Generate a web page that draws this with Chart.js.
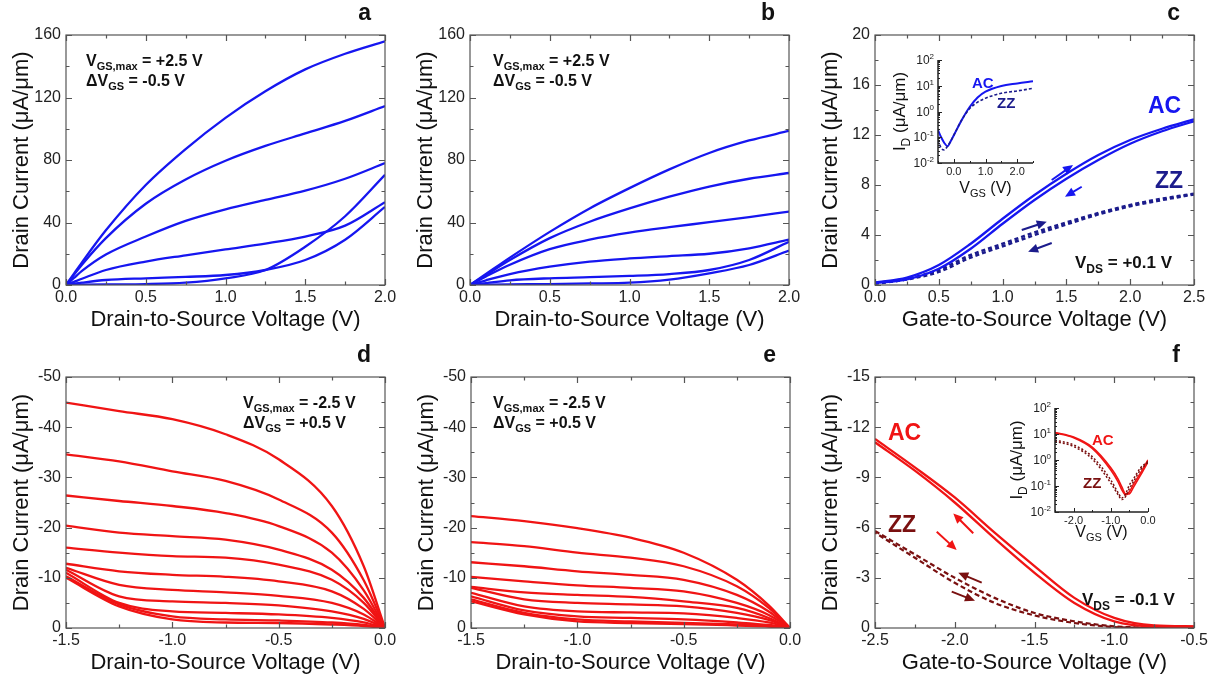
<!DOCTYPE html>
<html><head><meta charset="utf-8">
<script src="https://cdn.jsdelivr.net/npm/chart.js@4.4.1/dist/chart.umd.min.js"></script>
<style>
html,body{margin:0;padding:0;background:#fff;width:1214px;height:681px;overflow:hidden}
canvas{position:absolute}
</style></head><body>
<canvas id="pa" width="400" height="340" style="left:0px;top:0px"></canvas>
<canvas id="pb" width="400" height="340" style="left:404px;top:0px"></canvas>
<canvas id="pc" width="400" height="340" style="left:809px;top:0px"></canvas>
<canvas id="pd" width="400" height="339" style="left:0px;top:342px"></canvas>
<canvas id="pe" width="400" height="339" style="left:405px;top:342px"></canvas>
<canvas id="pf" width="400" height="339" style="left:809px;top:342px"></canvas>
<canvas id="ic" width="155" height="155" style="left:885px;top:45px"></canvas>
<canvas id="if" width="158" height="155" style="left:1000px;top:392px"></canvas>
<script>
// ---------------- DATA ----------------
const vdsPos = [0, 0.05, 0.1, 0.25, 0.5, 0.75, 1.0, 1.25, 1.5, 1.75, 2.0];
const idA = [
  [0, 7.3, 14.5, 35, 64, 87, 107, 124, 138, 148, 156],
  [0, 6.5, 13, 30, 52, 67.5, 79.5, 89, 97, 105, 114.5],
  [0, 4.5, 9, 19.5, 31, 41, 48.4, 54.5, 60.4, 68, 78],
  [0, 2, 4, 9.6, 15, 19, 22.8, 26.5, 31, 38, 53],
  [0, 0.8, 1.5, 3.2, 4.3, 5.2, 6.4, 9.6, 16, 29, 50],
  [0, 0.1, 0.2, 0.4, 0.6, 1.5, 4.3, 9.6, 24.5, 44, 70.5]
];
const idB = [
  [0, 3.5, 7, 17.5, 34, 49, 62, 74, 84.5, 92.5, 98.6],
  [0, 3.2, 6.4, 16, 30, 40.5, 49, 56.5, 63, 68, 71.7],
  [0, 2.8, 5.5, 13, 23, 29, 33.5, 37, 40.2, 43.5, 47],
  [0, 1.5, 3, 7, 11.7, 15, 17, 18.5, 20, 23.5, 29],
  [0, 0.6, 1.2, 3, 4.3, 5, 5.8, 7, 9.6, 16, 27.7],
  [0, 0.1, 0.2, 0.4, 0.6, 1, 1.5, 3.5, 7.5, 12.8, 22]
];
const vgsC = [0, 0.25, 0.5, 0.75, 1.0, 1.25, 1.5, 1.75, 2.0, 2.25, 2.5];
const idC_AC = [
  [0.2, 0.6, 1.6, 3.3, 5.3, 7.2, 8.9, 10.4, 11.6, 12.5, 13.25],
  [0.15, 0.45, 1.3, 2.9, 4.9, 6.8, 8.5, 10.0, 11.3, 12.3, 13.1]
];
const idC_ZZ = [
  [0.15, 0.5, 1.2, 2.4, 3.3, 4.2, 5.0, 5.75, 6.4, 6.9, 7.3],
  [0.1, 0.45, 1.05, 2.2, 3.1, 4.0, 4.85, 5.65, 6.3, 6.8, 7.25]
];
const vgsInsetC = [-0.5, -0.4, -0.3, -0.2, -0.1, 0, 0.25, 0.5, 0.75, 1.0, 1.5, 2.0, 2.5];
const idInsetC_AC = [0.19, 0.1, 0.06, 0.045, 0.07, 0.12, 0.47, 1.5, 3.5, 5.9, 9.8, 12.3, 15];
const idInsetC_ZZ = [0.08, 0.038, 0.032, 0.045, 0.07, 0.12, 0.47, 1.3, 2.3, 3.3, 5.1, 6.3, 7.9];
const vdsNeg = [-1.5, -1.25, -1.0, -0.75, -0.5, -0.25, -0.1, 0];
const idD = [
  [-44.9, -43.2, -41.6, -38.6, -33.6, -24.3, -12.3, 0],
  [-34.6, -33.2, -31.2, -29.3, -25.6, -19.0, -9.5, 0],
  [-26.4, -25.3, -24.3, -22.9, -20.3, -15.0, -7.5, 0],
  [-20.4, -19.0, -18.3, -17.6, -15.6, -11.6, -6.0, 0],
  [-16.0, -15.0, -14.3, -14.0, -12.6, -9.6, -5.0, 0],
  [-12.8, -11.3, -10.6, -10.2, -9.3, -7.3, -3.8, 0],
  [-12.0, -8.6, -7.6, -7.1, -6.4, -5.0, -2.7, 0],
  [-11.6, -6.3, -5.3, -5.0, -4.5, -3.3, -1.8, 0],
  [-11.0, -5.0, -3.3, -3.0, -2.7, -2.0, -1.1, 0],
  [-10.3, -4.7, -2.3, -1.7, -1.5, -1.1, -0.6, 0],
  [-10.0, -4.3, -1.7, -1.1, -1.0, -0.7, -0.4, 0]
];
const idE = [
  [-22.3, -21.3, -19.9, -18.0, -15.0, -9.6, -4.5, 0],
  [-17.1, -16.3, -15.0, -14.0, -12.3, -8.3, -4.0, 0],
  [-13.1, -12.3, -11.3, -10.6, -9.6, -6.6, -3.3, 0],
  [-10.2, -9.3, -8.5, -8.0, -7.3, -5.0, -2.6, 0],
  [-8.2, -7.1, -6.6, -6.2, -5.3, -4.0, -2.0, 0],
  [-8.0, -5.7, -5.0, -4.7, -4.3, -3.0, -1.6, 0],
  [-7.0, -4.3, -3.3, -3.1, -2.9, -2.0, -1.1, 0],
  [-6.3, -3.5, -2.3, -2.0, -1.7, -1.1, -0.6, 0],
  [-5.7, -3.0, -1.7, -1.3, -1.0, -0.7, -0.4, 0],
  [-5.3, -2.7, -1.3, -1.0, -0.8, -0.5, -0.3, 0]
];
const vgsF = [-2.5, -2.25, -2.0, -1.75, -1.5, -1.25, -1.0, -0.75, -0.5];
const idF_AC = [
  [-11.3, -9.6, -7.8, -5.7, -3.7, -1.8, -0.6, -0.15, -0.1],
  [-11.1, -9.4, -7.5, -5.35, -3.3, -1.5, -0.4, -0.1, -0.08]
];
const idF_ZZ = [
  [-5.8, -4.4, -3.0, -1.8, -0.9, -0.4, -0.1, -0.02, 0],
  [-5.7, -4.2, -2.7, -1.5, -0.75, -0.3, -0.06, -0.01, 0]
];
const vgsInsetF = [-2.5, -2.0, -1.5, -1.0, -0.8, -0.7, -0.6, -0.5, -0.4, -0.2, 0];
const idInsetF_AC = [
  [11, 7.2, 2.8, 0.41, 0.14, 0.07, 0.045, 0.06, 0.11, 0.32, 1.0],
  [11.5, 7.6, 3.1, 0.5, 0.18, 0.09, 0.05, 0.05, 0.085, 0.26, 0.85]
];
const idInsetF_ZZ = [
  [5.9, 3.8, 1.35, 0.17, 0.054, 0.035, 0.05, 0.11, 0.18, 0.5, 0.87],
  [5.2, 3.3, 1.1, 0.13, 0.045, 0.03, 0.04, 0.08, 0.14, 0.42, 0.8]
];
const insetYTicks = [0.01, 0.1, 1, 10, 100];
const insetYExp = ['-2', '-1', '0', '1', '2'];
const insetCXTicks = [0, 1, 2];
const insetFXTicks = [-2, -1, 0];

// ---------------- STYLE ----------------
const FONT = '"Liberation Sans", Arial, Helvetica, sans-serif';
const BLUE = '#1616f0', NAVY = '#1c1c8c', RED = '#f01414', DARKRED = '#7a1010';

function pts(xs, ys) { return xs.map((x, i) => ({x: x, y: ys[i]})); }
function ds(xs, ys, color, width, dash, dashOff) {
  return {data: pts(xs, ys), borderColor: color, borderWidth: width || 2.3,
          borderDash: dash || [], borderDashOffset: dashOff || 0, fill: false, pointRadius: 0};
}

function rich(ctx, parts, x, y, size, color, bold, align) {
  ctx.save();
  ctx.fillStyle = color; ctx.textBaseline = 'alphabetic'; ctx.textAlign = 'left';
  const w = bold ? 'bold ' : '';
  const f = k => w + (k ? Math.round(size * 0.68) : size) + 'px ' + FONT;
  let total = 0;
  for (const [t, k] of parts) { ctx.font = f(k); total += ctx.measureText(t).width; }
  let cx = align === 'center' ? x - total / 2 : align === 'right' ? x - total : x;
  for (const [t, k] of parts) {
    ctx.font = f(k);
    const dy = k === 1 ? size * 0.28 : k === 2 ? -size * 0.42 : 0;
    ctx.fillText(t, cx, y + dy);
    cx += ctx.measureText(t).width;
  }
  ctx.restore();
}

function arrow(chart, x1, y1, x2, y2, color) {
  const {ctx, scales: {x, y}} = chart;
  const ax = x.getPixelForValue(x1), ay = y.getPixelForValue(y1);
  const bx = x.getPixelForValue(x2), by = y.getPixelForValue(y2);
  const ang = Math.atan2(by - ay, bx - ax), h = 10, hw = 4.5;
  const c = Math.cos(ang), s = Math.sin(ang);
  ctx.save();
  ctx.strokeStyle = color; ctx.fillStyle = color; ctx.lineWidth = 2;
  ctx.beginPath(); ctx.moveTo(ax, ay); ctx.lineTo(bx - c * h * 0.8, by - s * h * 0.8); ctx.stroke();
  ctx.beginPath(); ctx.moveTo(bx, by);
  ctx.lineTo(bx - h * c + hw * s, by - h * s - hw * c);
  ctx.lineTo(bx - h * c - hw * s, by - h * s + hw * c);
  ctx.closePath(); ctx.fill();
  ctx.restore();
}

function frameTicks(chart, xMajor, xMinor, yMajor, yMinor) {
  const {ctx, chartArea: a, scales: {x, y}} = chart;
  ctx.save();
  ctx.strokeStyle = '#555'; ctx.lineWidth = 1.2;
  ctx.strokeRect(a.left, a.top, a.right - a.left, a.bottom - a.top);
  ctx.beginPath();
  const n = Math.round((x.max - x.min) / xMinor);
  for (let i = 0; i <= n; i++) {
    const v = x.min + i * xMinor;
    const major = Math.abs(v / xMajor - Math.round(v / xMajor)) < 1e-6;
    const L = major ? 6 : 3.5, px = Math.round(x.getPixelForValue(v)) + 0.5;
    ctx.moveTo(px, a.bottom); ctx.lineTo(px, a.bottom - L);
    ctx.moveTo(px, a.top); ctx.lineTo(px, a.top + L);
  }
  const m = Math.round((y.max - y.min) / yMinor);
  for (let i = 0; i <= m; i++) {
    const v = y.min + i * yMinor;
    const major = Math.abs(v / yMajor - Math.round(v / yMajor)) < 1e-6;
    const L = major ? 6 : 3.5, py = Math.round(y.getPixelForValue(v)) + 0.5;
    ctx.moveTo(a.left, py); ctx.lineTo(a.left + L, py);
    ctx.moveTo(a.right, py); ctx.lineTo(a.right - L, py);
  }
  ctx.stroke();
  ctx.restore();
}

function letter(chart, t) {
  const ctx = chart.ctx;
  ctx.save(); ctx.fillStyle = '#111'; ctx.font = 'bold 23px ' + FONT;
  ctx.textAlign = 'right'; ctx.textBaseline = 'alphabetic';
  ctx.fillText(t, chart.chartArea.right - 14, 20);
  ctx.restore();
}

function makePanel(id, o) {
  return new Chart(document.getElementById(id), {
    type: 'line',
    data: {datasets: o.datasets},
    options: {
      responsive: false, animation: false, devicePixelRatio: 1,
      layout: {padding: {left: 0, right: 15, top: 35, bottom: 0}},
      plugins: {legend: {display: false}, tooltip: {enabled: false}},
      elements: {line: {cubicInterpolationMode: 'monotone', borderJoinStyle: 'round', borderCapStyle: 'butt'}},
      scales: {
        x: {type: 'linear', min: o.xMin, max: o.xMax,
            grid: {display: false, drawTicks: false}, border: {display: false},
            ticks: {stepSize: o.xStep, padding: 3, color: '#222', maxRotation: 0, autoSkip: false,
                    font: {family: FONT, size: 16}, callback: v => (Math.abs(v) < 1e-9 ? 0 : v).toFixed(1)},
            title: {display: true, text: o.xTitle, color: '#111', font: {family: FONT, size: 22},
                    padding: {top: 0, bottom: o.titlePadB}},
            afterFit: s => { s.height = o.xH; s.paddingLeft = 0; s.paddingRight = 0; }},
        y: {type: 'linear', min: o.yMin, max: o.yMax, reverse: !!o.yRev,
            grid: {display: false, drawTicks: false}, border: {display: false},
            ticks: {stepSize: o.yStep, padding: 5, color: '#222', autoSkip: false,
                    font: {family: FONT, size: 16}, callback: v => String(Math.round(v) || 0)},
            title: {display: true, text: 'Drain Current (\u03bcA/\u03bcm)', color: '#111',
                    font: {family: FONT, size: 22}, padding: {top: 9, bottom: 0}},
            afterFit: s => { s.width = 66; s.paddingTop = 0; s.paddingBottom = 0; }}
      }
    },
    plugins: [{id: 'deco' + id, afterDraw(chart) {
      frameTicks(chart, o.xStep, o.xStep / 2, o.yStep, o.yStep / 2);
      letter(chart, o.letter);
      if (o.deco) o.deco(chart);
    }}]
  });
}

function noteLines(chart, l1, l2, x) {
  const ctx = chart.ctx;
  rich(ctx, l1, x, 66, 16, '#111', true, 'left');
  rich(ctx, l2, x, 86, 16, '#111', true, 'left');
}

const vdsTitle = 'Drain-to-Source Voltage (V)';
const vgsTitle = 'Gate-to-Source Voltage (V)';

// a
makePanel('pa', {
  datasets: idA.map(c => ds(vdsPos, c, BLUE)),
  xMin: 0, xMax: 2, xStep: 0.5, yMin: 0, yMax: 160, yStep: 40, xTitle: vdsTitle, xH: 55, titlePadB: 7, letter: 'a',
  deco: ch => noteLines(ch, [['V', 0], ['GS,max', 1], [' = +2.5 V', 0]], [['\u0394V', 0], ['GS', 1], [' = -0.5 V', 0]], 86)
});
// b
makePanel('pb', {
  datasets: idB.map(c => ds(vdsPos, c, BLUE)),
  xMin: 0, xMax: 2, xStep: 0.5, yMin: 0, yMax: 160, yStep: 40, xTitle: vdsTitle, xH: 55, titlePadB: 7, letter: 'b',
  deco: ch => noteLines(ch, [['V', 0], ['GS,max', 1], [' = +2.5 V', 0]], [['\u0394V', 0], ['GS', 1], [' = -0.5 V', 0]], 89)
});
// c
makePanel('pc', {
  datasets: [
    ds(vgsC, idC_AC[0], BLUE, 2.3), ds(vgsC, idC_AC[1], BLUE, 2.3),
    ds(vgsC, idC_ZZ[0], NAVY, 2.6, [4, 3], 0), ds(vgsC, idC_ZZ[1], NAVY, 2.6, [4, 3], 0)
  ],
  xMin: 0, xMax: 2.5, xStep: 0.5, yMin: 0, yMax: 20, yStep: 4, xTitle: vgsTitle, xH: 55, titlePadB: 7, letter: 'c',
  deco: ch => {
    const ctx = ch.ctx;
    rich(ctx, [['AC', 0]], 339, 113, 23, BLUE, true, 'left');
    rich(ctx, [['ZZ', 0]], 346, 188, 23, NAVY, true, 'left');
    rich(ctx, [['V', 0], ['DS', 1], [' = +0.1 V', 0]], 266, 268, 17, '#111', true, 'left');
    arrow(ch, 1.385, 8.4, 1.552, 9.6, BLUE);
    arrow(ch, 1.62, 7.86, 1.489, 7.06, BLUE);
    arrow(ch, 1.15, 4.4, 1.346, 5.06, NAVY);
    arrow(ch, 1.385, 3.36, 1.2, 2.66, NAVY);
  }
});
// d
makePanel('pd', {
  datasets: idD.map(c => ds(vdsNeg, c, RED)),
  xMin: -1.5, xMax: 0, xStep: 0.5, yMin: -50, yMax: 0, yStep: 10, yRev: true, xTitle: vdsTitle, xH: 53, titlePadB: 5, letter: 'd',
  deco: ch => noteLines(ch, [['V', 0], ['GS,max', 1], [' = -2.5 V', 0]], [['\u0394V', 0], ['GS', 1], [' = +0.5 V', 0]], 243)
});
// e
makePanel('pe', {
  datasets: idE.map(c => ds(vdsNeg, c, RED)),
  xMin: -1.5, xMax: 0, xStep: 0.5, yMin: -50, yMax: 0, yStep: 10, yRev: true, xTitle: vdsTitle, xH: 53, titlePadB: 5, letter: 'e',
  deco: ch => noteLines(ch, [['V', 0], ['GS,max', 1], [' = -2.5 V', 0]], [['\u0394V', 0], ['GS', 1], [' = +0.5 V', 0]], 88)
});
// f
makePanel('pf', {
  datasets: [
    ds(vgsF, idF_AC[0], RED, 2.3), ds(vgsF, idF_AC[1], RED, 2.3),
    ds(vgsF, idF_ZZ[0], DARKRED, 2.2, [5, 3], 0), ds(vgsF, idF_ZZ[1], DARKRED, 2.2, [5, 3], 3)
  ],
  xMin: -2.5, xMax: -0.5, xStep: 0.5, yMin: -15, yMax: 0, yStep: 3, yRev: true, xTitle: vgsTitle, xH: 53, titlePadB: 5, letter: 'f',
  deco: ch => {
    const ctx = ch.ctx;
    rich(ctx, [['AC', 0]], 79, 98, 23, RED, true, 'left');
    rich(ctx, [['ZZ', 0]], 79, 190, 23, DARKRED, true, 'left');
    rich(ctx, [['V', 0], ['DS', 1], [' = -0.1 V', 0]], 273, 263, 17, '#111', true, 'left');
    arrow(ch, -1.884, -5.66, -2.009, -6.85, RED);
    arrow(ch, -2.113, -5.75, -1.988, -4.66, RED);
    arrow(ch, -1.831, -2.71, -1.978, -3.30, DARKRED);
    arrow(ch, -2.019, -2.17, -1.873, -1.63, DARKRED);
  }
});

// ---------------- INSETS ----------------
function makeInset(id, o) {
  return new Chart(document.getElementById(id), {
    type: 'line',
    data: {datasets: o.datasets},
    options: {
      responsive: false, animation: false, devicePixelRatio: 1,
      layout: {padding: {left: 0, right: o.padR, top: o.padT, bottom: 0}},
      plugins: {legend: {display: false}, tooltip: {enabled: false}},
      elements: {line: {cubicInterpolationMode: 'monotone'}},
      scales: {
        x: {type: 'linear', min: o.xMin, max: o.xMax,
            grid: {display: false, drawTicks: false}, border: {display: false},
            afterBuildTicks: s => { s.ticks = o.xTicks.map(v => ({value: v})); },
            ticks: {padding: 2, color: '#222', maxRotation: 0, autoSkip: false,
                    font: {family: FONT, size: 11}, callback: v => (Math.abs(v) < 1e-9 ? 0 : v).toFixed(1)},
            afterFit: s => { s.height = o.xH; s.paddingLeft = 0; s.paddingRight = 0; }},
        y: {type: 'logarithmic', min: 0.01, max: 100,
            grid: {display: false, drawTicks: false}, border: {display: false},
            ticks: {display: false},
            afterFit: s => { s.width = o.yW; s.paddingTop = 0; s.paddingBottom = 0; }}
      }
    },
    plugins: [{id: 'ideco' + id, afterDraw(chart) {
      const {ctx, chartArea: a, scales: {x, y}} = chart;
      ctx.save();
      ctx.strokeStyle = '#222'; ctx.lineWidth = 1.5;
      ctx.beginPath();
      ctx.moveTo(a.left, a.top); ctx.lineTo(a.left, a.bottom); ctx.lineTo(a.right, a.bottom);
      ctx.stroke();
      ctx.lineWidth = 1; ctx.beginPath();
      for (let e = -2; e <= 2; e++) {
        for (let k = 1; k <= 9; k++) {
          const v = k * Math.pow(10, e);
          if (v > 100) break;
          const py = Math.round(y.getPixelForValue(v)) + 0.5, L = k === 1 ? 4 : 2;
          ctx.moveTo(a.left, py); ctx.lineTo(a.left + L, py);
        }
      }
      for (let v = o.xMin; v <= o.xMax + 1e-9; v += 0.5) {
        const px = Math.round(x.getPixelForValue(v)) + 0.5;
        const L = Math.abs(v - Math.round(v)) < 1e-6 ? 4 : 2;
        ctx.moveTo(px, a.bottom); ctx.lineTo(px, a.bottom - L);
      }
      ctx.stroke();
      ctx.restore();
      insetYTicks.forEach((v, i) => {
        rich(ctx, [['10', 0], [insetYExp[i], 2]], a.left - 4, y.getPixelForValue(v) + 4, 12, '#222', false, 'right');
      });
      ctx.save();
      ctx.translate(o.yTitleX, (a.top + a.bottom) / 2);
      ctx.rotate(-Math.PI / 2);
      rich(ctx, [['I', 0], ['D', 1], [' (\u03bcA/\u03bcm)', 0]], 0, 5, 17, '#111', false, 'center');
      ctx.restore();
      rich(ctx, [['V', 0], ['GS', 1], [' (V)', 0]], (a.left + a.right) / 2, o.xTitleY, 16, '#111', false, 'center');
      if (o.deco) o.deco(chart);
    }}]
  });
}

makeInset('ic', {
  datasets: [
    ds(vgsInsetC, idInsetC_ZZ, NAVY, 1.6, [3, 2]),
    ds(vgsInsetC, idInsetC_AC, BLUE, 2)
  ],
  xMin: -0.5, xMax: 2.5, xTicks: insetCXTicks, padR: 7, padT: 15, xH: 37, yW: 53, yTitleX: 15, xTitleY: 148,
  deco: ch => {
    rich(ch.ctx, [['AC', 0]], 87, 43, 15, BLUE, true, 'left');
    rich(ch.ctx, [['ZZ', 0]], 112, 63, 15, NAVY, true, 'left');
  }
});
makeInset('if', {
  datasets: [
    ds(vgsInsetF, idInsetF_ZZ[0], DARKRED, 1.5, [2, 2]),
    ds(vgsInsetF, idInsetF_ZZ[1], DARKRED, 1.5, [2, 2]),
    ds(vgsInsetF, idInsetF_AC[0], RED, 1.6),
    ds(vgsInsetF, idInsetF_AC[1], RED, 1.6)
  ],
  xMin: -2.5, xMax: 0, xTicks: insetFXTicks, padR: 10, padT: 16, xH: 35, yW: 55, yTitleX: 17, xTitleY: 145,
  deco: ch => {
    rich(ch.ctx, [['AC', 0]], 92, 53, 15, RED, true, 'left');
    rich(ch.ctx, [['ZZ', 0]], 83, 96, 15, DARKRED, true, 'left');
  }
});
</script>
</body></html>
